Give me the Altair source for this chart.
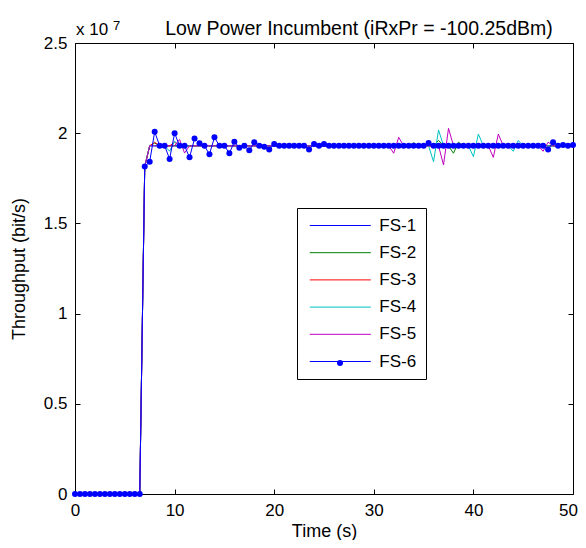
import altair as alt
import pandas as pd

# ---------------- data ----------------
time_s = [
    0, 0.5, 1, 1.5, 2, 2.5, 3, 3.5, 4, 4.5,
    5, 5.5, 6, 6.5, 7, 7.5, 8, 8.5, 9, 9.5,
    10, 10.5, 11, 11.5, 12, 12.5, 13, 13.5, 14, 14.5,
    15, 15.5, 16, 16.5, 17, 17.5, 18, 18.5, 19, 19.5,
    20, 20.5, 21, 21.5, 22, 22.5, 23, 23.5, 24, 24.5,
    25, 25.5, 26, 26.5, 27, 27.5, 28, 28.5, 29, 29.5,
    30, 30.5, 31, 31.5, 32, 32.5, 33, 33.5, 34, 34.5,
    35, 35.5, 36, 36.5, 37, 37.5, 38, 38.5, 39, 39.5,
    40, 40.5, 41, 41.5, 42, 42.5, 43, 43.5, 44, 44.5,
    45, 45.5, 46, 46.5, 47, 47.5, 48, 48.5, 49, 49.5,
    50,
]

series_names = ["FS-1", "FS-2", "FS-3", "FS-4", "FS-5", "FS-6"]
series_colors = ["#0000ff", "#008000", "#ff0000", "#00bfbf", "#bf00bf", "#0000ff"]

# throughput in units of 1e7 bit/s
fs1 = [
    0, 0, 0, 0, 0, 0, 0, 0, 0, 0,
    0, 0, 0, 0, 1.815, 1.93, 1.93, 1.93, 1.93, 1.93,
    1.93, 1.93, 1.93, 1.93, 1.93, 1.93, 1.93, 1.93, 1.93, 1.93,
    1.93, 1.93, 1.93, 1.93, 1.93, 1.93, 1.93, 1.93, 1.93, 1.93,
    1.93, 1.93, 1.93, 1.93, 1.93, 1.93, 1.93, 1.93, 1.93, 1.93,
    1.93, 1.93, 1.93, 1.93, 1.93, 1.93, 1.93, 1.93, 1.93, 1.93,
    1.93, 1.93, 1.93, 1.93, 1.93, 1.93, 1.93, 1.93, 1.93, 1.93,
    1.93, 1.93, 1.93, 1.93, 1.93, 1.93, 1.93, 1.93, 1.93, 1.93,
    1.93, 1.93, 1.93, 1.93, 1.93, 1.93, 1.93, 1.93, 1.93, 1.93,
    1.93, 1.93, 1.93, 1.93, 1.93, 1.93, 1.93, 1.93, 1.93, 1.93,
    1.93,
]
fs2 = [
    0, 0, 0, 0, 0, 0, 0, 0, 0, 0,
    0, 0, 0, 0, 1.815, 1.93, 1.945, 1.93, 1.93, 1.93,
    1.93, 1.93, 1.93, 1.93, 1.93, 1.93, 1.93, 1.93, 1.93, 1.93,
    1.93, 1.93, 1.93, 1.93, 1.93, 1.93, 1.93, 1.93, 1.93, 1.93,
    1.93, 1.93, 1.93, 1.93, 1.93, 1.93, 1.93, 1.93, 1.93, 1.93,
    1.93, 1.93, 1.93, 1.93, 1.93, 1.93, 1.93, 1.93, 1.93, 1.93,
    1.93, 1.93, 1.93, 1.93, 1.93, 1.93, 1.93, 1.93, 1.947, 1.93,
    1.93, 1.93, 1.93, 1.96, 1.93, 1.93, 1.889, 1.95, 1.93, 1.93,
    1.93, 1.93, 1.93, 1.93, 1.93, 1.93, 1.93, 1.93, 1.93, 1.93,
    1.93, 1.93, 1.93, 1.93, 1.93, 1.93, 1.93, 1.93, 1.93, 1.93,
    1.93,
]
fs3 = [
    0, 0, 0, 0, 0, 0, 0, 0, 0, 0,
    0, 0, 0, 0, 1.815, 1.93, 1.95, 1.93, 1.93, 1.93,
    1.95, 1.93, 1.93, 1.93, 1.93, 1.93, 1.93, 1.93, 1.93, 1.93,
    1.93, 1.93, 1.93, 1.93, 1.93, 1.93, 1.93, 1.93, 1.93, 1.93,
    1.93, 1.93, 1.93, 1.93, 1.93, 1.93, 1.93, 1.93, 1.93, 1.93,
    1.93, 1.93, 1.93, 1.93, 1.93, 1.93, 1.93, 1.93, 1.93, 1.93,
    1.93, 1.93, 1.93, 1.93, 1.93, 1.93, 1.93, 1.93, 1.93, 1.93,
    1.93, 1.93, 1.93, 1.93, 1.93, 1.93, 1.93, 1.93, 1.93, 1.93,
    1.93, 1.93, 1.93, 1.93, 1.93, 1.93, 1.93, 1.93, 1.93, 1.93,
    1.93, 1.93, 1.93, 1.93, 1.93, 1.93, 1.93, 1.93, 1.93, 1.93,
    1.93,
]
fs4 = [
    0, 0, 0, 0, 0, 0, 0, 0, 0, 0,
    0, 0, 0, 0, 1.815, 1.93, 1.93, 1.93, 1.93, 1.90,
    1.955, 1.93, 1.93, 1.93, 1.93, 1.93, 1.93, 1.93, 1.93, 1.93,
    1.93, 1.93, 1.93, 1.93, 1.93, 1.93, 1.93, 1.93, 1.93, 1.93,
    1.93, 1.93, 1.93, 1.93, 1.93, 1.93, 1.93, 1.93, 1.93, 1.93,
    1.93, 1.93, 1.93, 1.93, 1.93, 1.93, 1.93, 1.93, 1.93, 1.93,
    1.93, 1.93, 1.93, 1.93, 1.93, 1.93, 1.93, 1.93, 1.93, 1.93,
    1.93, 1.93, 1.842, 2.018, 1.93, 1.93, 1.93, 1.93, 1.93, 1.93,
    1.87, 1.995, 1.93, 1.93, 1.93, 1.93, 1.93, 1.93, 1.90, 1.96,
    1.93, 1.93, 1.93, 1.93, 1.93, 1.93, 1.93, 1.93, 1.93, 1.93,
    1.93,
]
fs5 = [
    0, 0, 0, 0, 0, 0, 0, 0, 0, 0,
    0, 0, 0, 0, 1.815, 1.93, 1.93, 1.93, 1.93, 1.93,
    1.93, 1.965, 1.89, 1.93, 1.93, 1.93, 1.93, 1.93, 1.93, 1.93,
    1.93, 1.93, 1.93, 1.93, 1.93, 1.93, 1.93, 1.93, 1.93, 1.93,
    1.93, 1.93, 1.93, 1.93, 1.93, 1.93, 1.93, 1.93, 1.93, 1.93,
    1.93, 1.93, 1.93, 1.93, 1.93, 1.93, 1.93, 1.93, 1.93, 1.93,
    1.93, 1.93, 1.93, 1.93, 1.889, 1.977, 1.93, 1.93, 1.93, 1.93,
    1.93, 1.93, 1.93, 1.93, 1.824, 2.027, 1.93, 1.93, 1.93, 1.93,
    1.93, 1.93, 1.93, 1.93, 1.866, 1.995, 1.93, 1.93, 1.93, 1.93,
    1.93, 1.93, 1.93, 1.93, 1.90, 1.95, 1.93, 1.93, 1.93, 1.93,
    1.93,
]
fs6 = [
    0, 0, 0, 0, 0, 0, 0, 0, 0, 0,
    0, 0, 0, 0, 1.815, 1.842, 2.008, 1.93, 1.93, 1.857,
    2.0, 1.93, 1.93, 1.866, 1.97, 1.944, 1.93, 1.883, 1.977, 1.93,
    1.93, 1.889, 1.953, 1.92, 1.93, 1.905, 1.95, 1.93, 1.925, 1.91,
    1.94, 1.93, 1.93, 1.93, 1.93, 1.93, 1.93, 1.91, 1.94, 1.93,
    1.94, 1.93, 1.93, 1.93, 1.93, 1.93, 1.93, 1.93, 1.93, 1.93,
    1.93, 1.93, 1.93, 1.93, 1.93, 1.93, 1.93, 1.93, 1.93, 1.93,
    1.93, 1.945, 1.93, 1.93, 1.93, 1.93, 1.93, 1.93, 1.93, 1.93,
    1.93, 1.93, 1.93, 1.93, 1.93, 1.93, 1.93, 1.93, 1.93, 1.93,
    1.93, 1.93, 1.93, 1.93, 1.93, 1.91, 1.95, 1.93, 1.935, 1.93,
    1.935,
]

chart_title = "Low Power Incumbent (iRxPr = -100.25dBm)"
x_title = "Time (s)"
y_title = "Throughput (bit/s)"
x_ticks = [0, 10, 20, 30, 40, 50]
y_ticks = [0, 0.5, 1, 1.5, 2, 2.5]
exp_base = "x 10"
exp_power = "7"

# ---------------- tables ----------------
all_series = [fs1, fs2, fs3, fs4, fs5, fs6]
rows = []
for name, vals in zip(series_names, all_series):
    for t, v in zip(time_s, vals):
        rows.append({"time": t, "series": name, "value": v})
df = pd.DataFrame(rows)
pts = pd.DataFrame({"time": time_s, "value": fs6, "series": ["FS-6"] * len(fs6)})

FONT = "Liberation Sans"
W, H = 498, 451

xscale = alt.Scale(domain=[0, 50], nice=False, zero=False)
yscale = alt.Scale(domain=[0, 2.5], nice=False)

tick_style = dict(domain=False, grid=False, tickSize=5, offset=-5,
                  tickColor="black", tickWidth=1, labelFlush=False,
                  labelOverlap=False)

lines = alt.Chart(df).mark_line(strokeWidth=1).encode(
    x=alt.X("time:Q", scale=xscale,
            axis=alt.Axis(orient="bottom", values=x_ticks, title=x_title, format="d",
                          labelPadding=8, titlePadding=4,
                          labelOffset={"condition": {"test": "datum.value === 50", "value": -5},
                                       "value": 0},
                          labelFont=FONT, labelFontSize=17, labelColor="black",
                          titleFont=FONT, titleFontSize=18, titleFontWeight="normal",
                          titleColor="black", **tick_style)),
    y=alt.Y("value:Q", scale=yscale,
            axis=alt.Axis(orient="left", values=y_ticks, title=y_title, format="~r",
                          labelPadding=8, titlePadding=15,
                          labelFont=FONT, labelFontSize=17, labelColor="black",
                          titleFont=FONT, titleFontSize=18, titleFontWeight="normal",
                          titleColor="black", **tick_style)),
    color=alt.Color("series:N",
                    scale=alt.Scale(domain=series_names, range=series_colors),
                    legend=alt.Legend(orient="none", legendX=222, legendY=165,
                                      title=None, direction="vertical",
                                      padding=9, rowPadding=9.2,
                                      symbolType="M-0.59,0H7.04", symbolSize=256,
                                      symbolStrokeWidth=1,
                                      labelFont=FONT, labelFontSize=17,
                                      labelColor="black", labelOffset=56.3,
                                      strokeColor="black", fillColor="white")),
)

points = alt.Chart(pts).mark_point(filled=True, size=36, opacity=1,
                                   color="#0000ff", strokeWidth=0).encode(
    x=alt.X("time:Q", scale=xscale,
            axis=alt.Axis(orient="top", values=x_ticks, labels=False, title=None,
                          **tick_style)),
    y=alt.Y("value:Q", scale=yscale,
            axis=alt.Axis(orient="right", values=y_ticks, labels=False, title=None,
                          **tick_style)),
    shape=alt.Shape("series:N",
                    scale=alt.Scale(domain=["FS-6"], range=["circle"]),
                    legend=alt.Legend(orient="none", legendX=262, legendY=317,
                                      title=None, padding=0,
                                      labelExpr="''", labelFontSize=1, labelOffset=0,
                                      symbolSize=36, symbolType="circle",
                                      symbolFillColor="#0000ff",
                                      symbolStrokeColor="#0000ff",
                                      symbolStrokeWidth=0)),
)

title_text = alt.Chart(alt.Data(values=[{"label": chart_title}])).mark_text(
    font=FONT, fontSize=19.5, align="center", baseline="alphabetic", color="black"
).encode(x=alt.value(284), y=alt.value(-8), text="label:N")

exp_text = alt.Chart(alt.Data(values=[{"label": exp_base}])).mark_text(
    font=FONT, fontSize=17, align="left", baseline="alphabetic", color="black"
).encode(x=alt.value(1), y=alt.value(-8), text="label:N")

pow_text = alt.Chart(alt.Data(values=[{"label": exp_power}])).mark_text(
    font=FONT, fontSize=13, align="left", baseline="alphabetic", color="black"
).encode(x=alt.value(38), y=alt.value(-13), text="label:N")

chart = alt.layer(lines, points, title_text, exp_text, pow_text).resolve_axis(
    x="independent", y="independent"
).properties(
    width=W, height=H,
    autosize=alt.AutoSizeParams(type="none"),
    padding={"left": 67, "top": 35, "right": 5, "bottom": 46},
).configure_view(stroke="black", strokeWidth=1)

chart.save("out.html", embed_options={"renderer": "svg", "actions": False})
